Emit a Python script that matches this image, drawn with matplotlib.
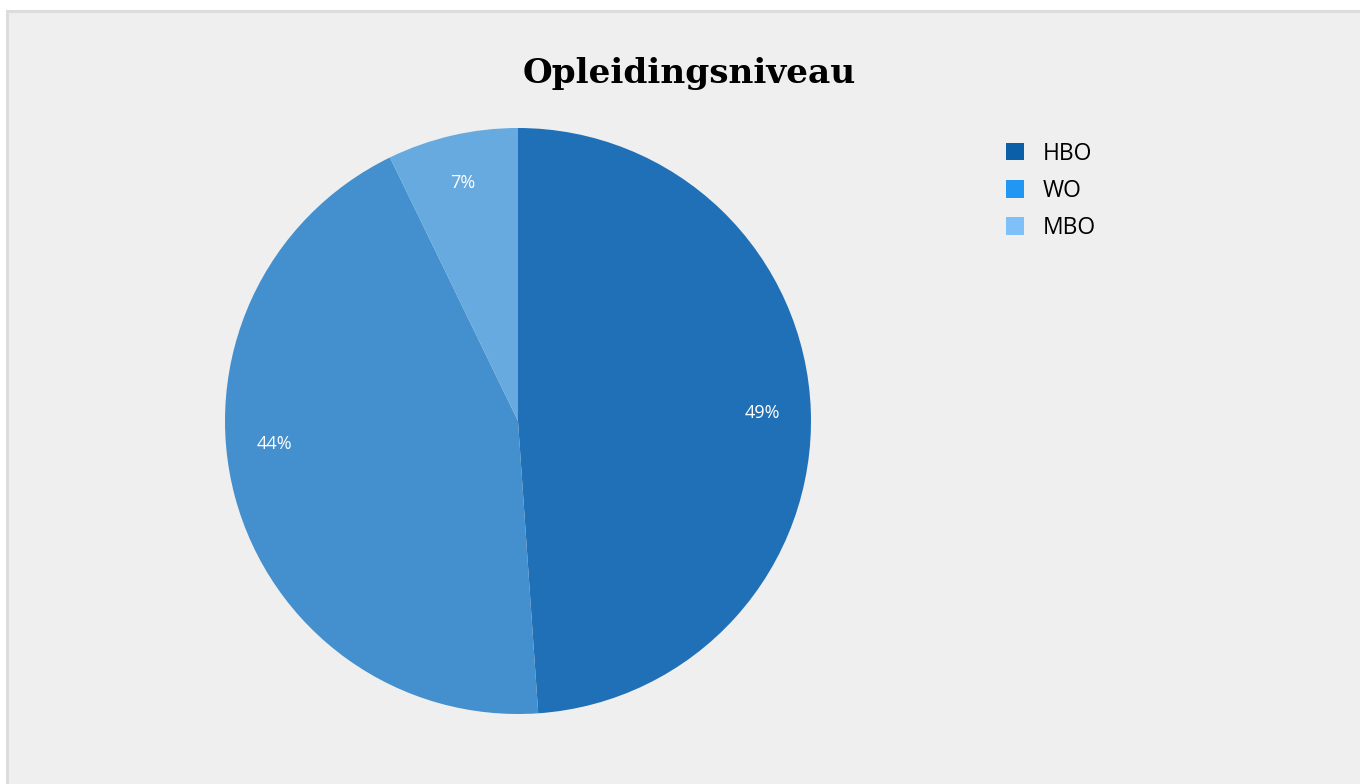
import matplotlib
matplotlib.use("Agg")
import matplotlib.pyplot as plt
from matplotlib.patches import Rectangle, Patch
import numpy as np

# data
labels = ["HBO", "WO", "MBO"]
shares = [48.9, 43.9, 7.2]
pct_text = ["49%", "44%", "7%"]
slice_colors = ["#2070b8", "#448fcd", "#66aadf"]
legend_colors = ["#0b5ea8", "#2196f3", "#80c0f8"]
title = "Opleidingsniveau"

W, H = 1360, 784
fig = plt.figure(figsize=(W / 100, H / 100), dpi=100, facecolor="white")

# grey panel with light border (runs off the right/bottom edge)
fig.patches.append(Rectangle((7 / W, -0.05), 1.2, (H - 11) / H + 0.05,
                             transform=fig.transFigure, facecolor="#efefef",
                             edgecolor="#dcdcdc", linewidth=2.2, zorder=-5))

# pie centre (518, 421), radius 293 px
cx, cy, r = 518, 421, 293
ax = fig.add_axes([(cx - r) / W, (H - cy - r) / H, 2 * r / W, 2 * r / H])
ax.set_facecolor("none")
ax.set_zorder(2)

wedges, _ = ax.pie(shares, colors=slice_colors, startangle=90,
                   counterclock=False, radius=1.0,
                   wedgeprops=dict(linewidth=0))
ax.set_xlim(-1, 1)
ax.set_ylim(-1, 1)
ax.set_aspect("equal")
ax.axis("off")

# label angle nudge (degrees) - the big WO label sits a bit higher in the original
nudge = [0, -9.5, 0]
ang = 90.0
for w, txt, dn in zip(shares, pct_text, nudge):
    mid = ang - w * 360 / 100 / 2 + dn
    ang -= w * 360 / 100
    ax.text(0.835 * np.cos(np.radians(mid)), 0.835 * np.sin(np.radians(mid)),
            txt, color="white", fontsize=13, family="Open Sans",
            ha="center", va="center")

fig.text(689 / W, 1 - 74 / H, title, ha="center", va="center",
         fontsize=24.7, fontweight="bold", family="DejaVu Serif")

handles = [Patch(facecolor=c, edgecolor="none") for c in legend_colors]
fig.legend(handles, labels, loc="upper left",
           bbox_to_anchor=(1001 / W, 1 - 137 / H), frameon=False,
           prop=dict(family="Open Sans", size=16.5), handlelength=0.8,
           handleheight=0.8, handletextpad=0.8, labelspacing=0.58,
           borderaxespad=0, borderpad=0.2)

fig.savefig("out.png", dpi=100, facecolor=fig.get_facecolor())
